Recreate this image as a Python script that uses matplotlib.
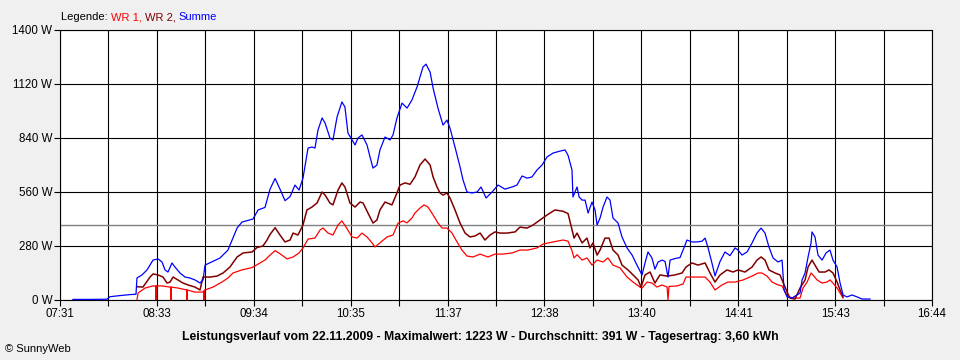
import matplotlib
matplotlib.use("Agg")
import matplotlib.pyplot as plt

# ---- data (time in minutes since midnight, power in W) ----
t_sum = [459.2, 470.0, 480.8, 482.7, 489.1, 495.4, 499.2, 499.8, 503.0, 506.2, 508.1, 510.0,
         513.2, 515.7, 517.6, 519.5, 522.0, 523.9, 527.1, 530.3, 533.4, 536.6, 539.8, 541.7,
         543.0, 552.5, 557.5, 563.3, 566.4, 573.4, 576.6, 581.0, 584.2, 587.4, 590.5, 593.7,
         596.9, 600.0, 602.6, 605.1, 608.3, 610.8, 612.7, 614.6, 617.2, 619.1, 622.2, 624.1,
         626.7, 629.8, 631.7, 633.6, 636.2, 638.1, 640.0, 642.5, 645.7, 647.6, 649.5, 652.0,
         653.9, 657.1, 660.3, 662.2, 664.7, 667.9, 671.1, 674.2, 677.4, 679.3, 681.2, 683.1,
         685.7, 687.6, 690.7, 693.9, 696.4, 698.3, 701.5, 704.7, 706.6, 709.1, 712.3, 715.5,
         718.0, 721.2, 725.0, 728.8, 733.2, 737.7, 740.8, 744.0, 747.2, 750.3, 753.5, 756.7,
         759.9, 763.7, 768.1, 771.3, 773.2, 775.7, 776.3, 778.9, 780.2, 782.1, 784.0, 785.9,
         788.4, 790.3, 791.6, 793.5, 795.4, 797.9, 799.8, 801.7, 804.9, 807.4, 810.6, 813.8,
         816.9, 820.1, 822.0, 823.9, 826.4, 828.3, 830.3, 832.8, 834.7, 836.6, 837.9, 841.0,
         844.2, 847.4, 848.6, 851.8, 855.0, 858.2, 860.1, 862.0, 864.5, 866.4, 869.6, 872.7,
         875.9, 879.1, 881.0, 883.5, 886.7, 889.9, 893.0, 895.6, 898.1, 900.6, 903.2, 906.4,
         908.9, 910.2, 912.1, 915.2, 918.4, 920.3, 921.6, 923.5, 925.4, 927.3, 927.9, 929.8,
         931.7, 934.3, 936.8, 939.3, 941.2, 943.8, 945.7, 947.6, 950.1, 953.3, 956.5, 959.6,
         964.7]
p_sum = [3, 3, 4, 17, 23, 28, 30, 114, 130, 156, 181, 207,
         213, 197, 156, 145, 192, 171, 140, 119, 114, 104, 88, 104,
         181, 218, 259, 373, 404, 420, 467, 480, 575, 630, 575, 515,
         536, 596, 570, 632, 788, 793, 788, 881, 944, 918, 840, 830,
         949, 1027, 1001, 866, 830, 804, 840, 856, 804, 742, 684, 700,
         778, 845, 830, 856, 944, 1021, 995, 1037, 1104, 1156, 1208, 1223,
         1182, 1099, 995, 907, 933, 892, 793, 690, 622, 560, 555, 560,
         586, 529, 560, 596, 575, 586, 596, 643, 632, 638, 674, 700,
         742, 762, 772, 778, 750, 674, 534, 586, 534, 518, 518, 451,
         508, 467, 389, 425, 482, 534, 518, 425, 399, 327, 270, 233,
         181, 130, 192, 249, 218, 160, 197, 207, 200, 119, 207, 215,
         220, 285, 311, 301, 301, 305, 321, 270, 190, 125, 200, 249,
         230, 270, 259, 233, 249, 296, 347, 373, 347, 275, 218, 197,
         207, 52, 16, 10, 26, 36, 104, 140, 223, 296, 353, 327,
         233, 207, 244, 259, 207, 171, 88, 26, 16, 26, 16, 5,
         5]

t_wr2 = [499.8, 503.6, 508.1, 510.0, 513.2, 516.3, 518.9, 520.8, 522.7, 525.8, 529.0, 532.2,
         536.6, 539.8, 541.7, 546.1, 550.6, 554.4, 558.8, 563.3, 567.1, 572.8, 575.9, 579.7,
         582.3, 584.2, 587.4, 590.5, 593.7, 596.9, 598.8, 601.9, 605.1, 607.6, 610.8, 614.0,
         617.2, 619.1, 622.2, 624.1, 627.3, 629.8, 631.7, 634.9, 638.1, 641.3, 643.2, 646.3,
         649.5, 652.0, 653.9, 657.1, 661.5, 664.7, 666.6, 669.8, 673.0, 676.1, 679.3, 682.5,
         685.7, 687.6, 690.1, 692.0, 693.9, 696.4, 698.3, 701.5, 704.7, 707.9, 711.0, 714.2,
         717.4, 720.5, 723.7, 726.9, 730.0, 734.5, 739.6, 742.7, 747.2, 751.0, 755.4, 759.9,
         764.9, 770.0, 773.2, 775.7, 777.0, 778.9, 782.1, 785.2, 787.1, 789.0, 791.6, 793.5,
         796.6, 799.2, 801.7, 804.9, 807.4, 811.2, 814.4, 817.6, 819.5, 822.0, 825.2, 828.3,
         831.5, 836.0, 841.0, 845.5, 848.0, 851.8, 855.6, 860.1, 863.2, 866.4, 869.6, 874.0,
         877.8, 881.0, 885.4, 889.9, 893.0, 895.6, 898.1, 900.6, 904.5, 907.6, 909.5, 912.1,
         914.0, 917.1, 920.3, 923.5, 925.4, 927.9, 929.8, 932.4, 936.2, 938.7, 941.2, 943.8,
         945.7, 947.6]
p_wr2 = [69, 67, 119, 135, 130, 119, 88, 93, 119, 104, 88, 78,
         67, 52, 119, 119, 124, 140, 171, 223, 244, 249, 272, 280,
         311, 340, 375, 337, 301, 311, 347, 337, 389, 467, 482, 503,
         560, 544, 503, 493, 570, 607, 586, 503, 482, 508, 503, 451,
         399, 415, 467, 508, 493, 555, 596, 607, 600, 638, 700, 731,
         700, 638, 586, 555, 544, 555, 529, 467, 399, 347, 327, 332,
         347, 311, 337, 353, 347, 347, 353, 378, 373, 389, 415, 441,
         467, 460, 448, 363, 321, 347, 296, 321, 270, 296, 233, 259,
         321, 321, 259, 233, 181, 156, 130, 104, 67, 130, 145, 88,
         130, 124, 130, 140, 171, 192, 181, 192, 140, 93, 130, 156,
         145, 156, 145, 171, 207, 223, 207, 156, 140, 130, 93, 41,
         10, 5, 62, 104, 171, 207, 181, 145, 145, 156, 140, 93,
         52, 16]

t_wr1 = [499.8, 500.5, 504.9, 510.0, 511.8, 511.9, 512.0, 515.7, 520.8, 521.3, 521.4, 521.5,
         525.8, 531.4, 531.5, 531.6, 536.6, 541.1, 542.2, 542.3, 542.4, 543.0, 548.0, 553.7,
         557.5, 560.7, 566.4, 572.8, 577.8, 581.0, 584.2, 587.4, 590.5, 595.0, 598.8, 602.6,
         605.1, 608.3, 612.7, 615.9, 617.8, 621.0, 624.1, 627.3, 629.8, 632.4, 636.2, 639.4,
         642.5, 645.7, 648.9, 650.8, 653.9, 658.4, 662.2, 665.4, 668.5, 671.1, 674.2, 676.1,
         679.3, 681.9, 684.4, 687.6, 690.7, 693.3, 696.4, 699.6, 702.8, 705.9, 709.1, 712.9,
         717.4, 722.4, 726.9, 731.9, 737.7, 742.7, 747.8, 753.5, 757.3, 763.7, 770.0, 773.2,
         775.7, 777.0, 778.9, 782.1, 785.2, 788.4, 791.6, 795.4, 798.5, 801.7, 806.2, 810.6,
         814.4, 818.8, 820.1, 823.3, 826.4, 829.6, 832.8, 836.0, 836.6, 837.2, 842.3, 846.1,
         848.0, 851.8, 855.6, 860.1, 863.2, 866.4, 870.8, 874.6, 879.1, 884.2, 889.9, 893.7,
         896.2, 899.4, 902.6, 906.4, 908.9, 910.8, 912.7, 917.1, 920.3, 922.2, 924.8, 927.3,
         928.5, 931.1, 934.3, 937.4, 939.3, 941.2, 943.8, 945.7, 947.6]
p_wr1 = [0, 36, 62, 73, 73, 0, 73, 73, 67, 67, 0, 67,
         62, 52, 0, 52, 41, 41, 45, 0, 50, 52, 67, 93,
         114, 140, 156, 168, 192, 207, 233, 256, 240, 213, 223, 244,
         270, 316, 321, 363, 373, 347, 337, 389, 410, 378, 327, 321,
         347, 327, 296, 275, 296, 327, 337, 399, 410, 400, 425, 451,
         477, 493, 482, 441, 399, 373, 373, 347, 301, 259, 228, 223,
         238, 223, 238, 238, 244, 259, 259, 270, 290, 301, 311, 305,
         255, 218, 235, 207, 218, 181, 207, 197, 218, 181, 166, 119,
         93, 67, 62, 93, 88, 67, 78, 67, 0, 70, 73, 83,
         119, 119, 119, 119, 93, 52, 78, 93, 93, 104, 124, 140,
         140, 124, 93, 78, 73, 41, 16, 10, 10, 62, 93, 140,
         130, 104, 88, 93, 104, 88, 62, 36, 10]

average_w = 391
x_start, x_end = 451, 1004
n_grid = 19
time_labels = ["07:31", "08:33", "09:34", "10:35", "11:37", "12:38", "13:40",
               "14:41", "15:43", "16:44"]
y_ticks = [0, 280, 560, 840, 1120, 1400]
y_labels = ["0 W", "280 W", "560 W", "840 W", "1120 W", "1400 W"]

title = ("Leistungsverlauf vom 22.11.2009 - Maximalwert: 1223 W - "
         "Durchschnitt: 391 W - Tagesertrag: 3,60 kWh")

# ---- drawing ----
plt.rcParams['font.family'] = ['Liberation Sans', 'DejaVu Sans']
BG = '#f0f0f0'
fig = plt.figure(figsize=(9.6, 3.6), dpi=100, facecolor=BG)
ax = fig.add_axes([60/960, 1-300/360, 872/960, 270/360])
ax.set_facecolor('white')

step = (x_end - x_start) / (n_grid - 1)
xt = [x_start + i*step for i in range(n_grid)]
xl = []
for i in range(n_grid):
    xl.append(time_labels[i//2] if i % 2 == 0 else "")

ax.set_xlim(x_start, x_end)
ax.set_ylim(0, 1400)
ax.set_xticks(xt)
ax.set_xticklabels(xl)
ax.set_yticks(y_ticks)
ax.set_yticklabels(y_labels)
ax.tick_params(axis='both', direction='out', length=4, width=0.8, color='black',
               labelsize=8.3, pad=1.5, labelcolor='black')
ax.grid(True, color='black', linewidth=0.8)
ax.set_axisbelow(True)
for s in ax.spines.values():
    s.set_color('black')
    s.set_linewidth(0.8)

ax.axhline(average_w, color='#808080', linewidth=1.0, zorder=1.5)
ax.plot(t_wr1, p_wr1, color='#ff0000', linewidth=0.9, zorder=3)
ax.plot(t_wr2, p_wr2, color='#800000', linewidth=1.1, zorder=3)
ax.plot(t_sum, p_sum, color='#0000ff', linewidth=0.9, zorder=4)

fig.text(0.5, 1-337/360, title, ha='center', va='center', fontsize=8.8,
         fontweight='bold', color='black')
fig.text(5/960, 1-349/360, "\u00a9 SunnyWeb", ha='left', va='center', fontsize=8,
         color='black')

# legend as coloured text pieces
fig.canvas.draw()
renderer = fig.canvas.get_renderer()
parts = [("Legende: ", 'black'), ("WR 1, ", '#ff0000'), ("WR 2, ", '#800000'),
         ("Summe", '#0000ff')]
xpos = 61
for txt, col in parts:
    t = fig.text(xpos/960, 1-17/360, txt, ha='left', va='center', fontsize=8, color=col)
    bb = t.get_window_extent(renderer=renderer)
    xpos += bb.width

fig.savefig("out.png", dpi=100, facecolor=BG)
